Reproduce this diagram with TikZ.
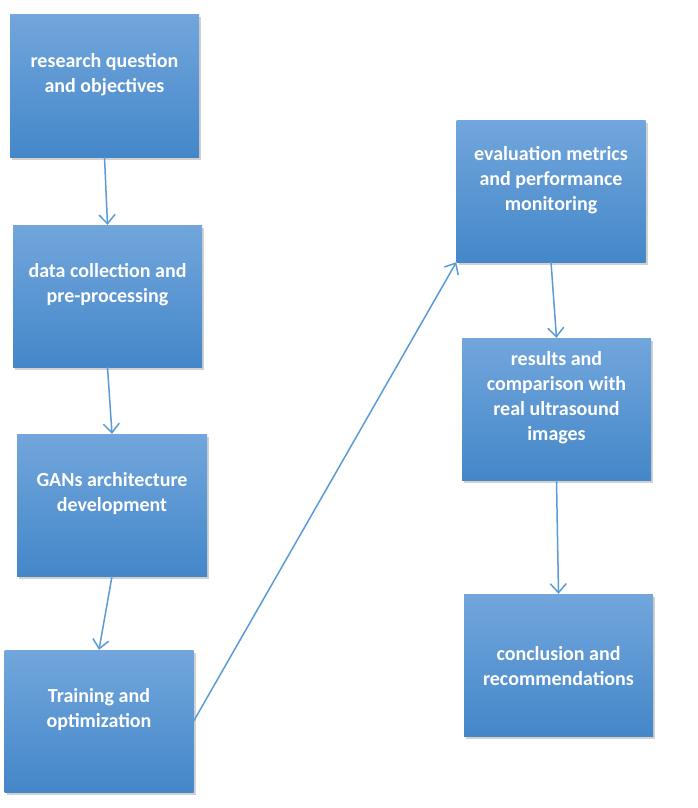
\documentclass[tikz,border=0pt]{standalone}
\usepackage{fontspec}
\setmainfont{Carlito}
\usetikzlibrary{arrows.meta,shadows}
\definecolor{boxtop}{RGB}{114,166,220}
\definecolor{boxmid}{RGB}{86,155,218}
\definecolor{boxbot}{RGB}{68,135,201}
\definecolor{arrowblue}{RGB}{91,155,213}
\begin{document}
\begin{tikzpicture}[x=1pt,y=-1pt,
  box/.style={draw=none, minimum width=189pt, minimum height=142pt, inner sep=0pt,
    top color=boxtop, middle color=boxmid, bottom color=boxbot,
    drop shadow={shadow xshift=2pt, shadow yshift=-2.5pt, opacity=0.3, fill=black!60}},
  lbl/.style={text=white, font=\bfseries\fontsize{20}{25}\selectfont, align=center, inner sep=0pt},
  conn/.style={draw=arrowblue, line width=1.5pt, -{Straight Barb[length=9pt,width=16pt,line width=1.5pt]}}]
\useasboundingbox (0,0) rectangle (697,808);
\node[box] (b1) at (104.5,86) {};
\node[box] (b2) at (107.5,296) {};
\node[box, minimum width=190pt] (b3) at (112,505) {};
\node[box] (b4) at (99,721) {};
\node[box] (b5) at (551,191) {};
\node[box] (b6) at (556.5,409) {};
\node[box] (b7) at (558.5,665) {};
\node[lbl] (t1) at (104.5,74.5) {research question\\and objectives};
\node[lbl] (t2) at (107.5,284.5) {data collection and\\pre-processing};
\node[lbl] (t3) at (112,493.5) {GANs architecture\\development};
\node[lbl] (t4) at (99,709.5) {Training and\\optimization};
\node[lbl] (t5) at (551,180) {evaluation metrics\\and performance\\monitoring};
\node[lbl] (t6) at (556.5,397.5) {results and\\comparison with\\real ultrasound\\images};
\node[lbl] (t7) at (558.5,666) {conclusion and\\recommendations};
\draw[conn] (b1.south) -- (b2.north);
\draw[conn] (b2.south) -- (b3.north);
\draw[conn] (b3.south) -- (b4.north);
\draw[conn] (b4.east) -- (b5.south west);
\draw[conn] (b5.south) -- (b6.north);
\draw[conn] (b6.south) -- (b7.north);
\end{tikzpicture}
\end{document}
